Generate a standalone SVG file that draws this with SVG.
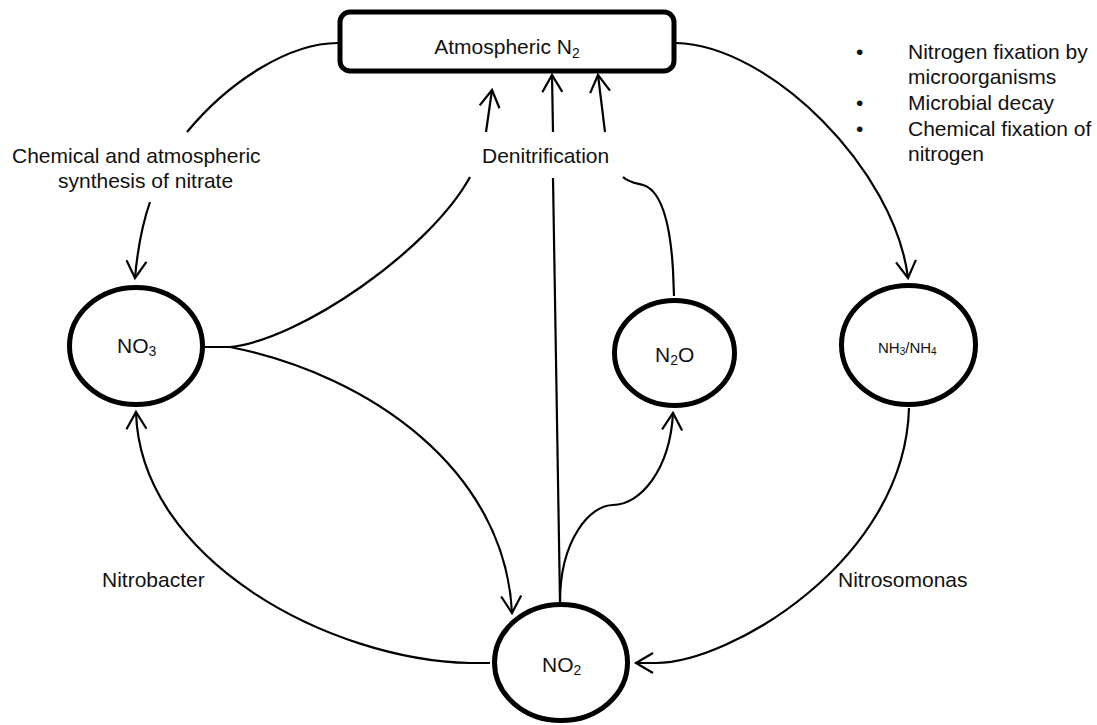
<svg xmlns="http://www.w3.org/2000/svg" width="1097" height="725" viewBox="0 0 1097 725">
<defs>
<marker id="arr" markerUnits="userSpaceOnUse" markerWidth="40" markerHeight="40" refX="0" refY="0" viewBox="-20 -20 40 40" orient="auto" overflow="visible">
<path d="M-17,-10 L0,0 L-17,10" fill="none" stroke="#000" stroke-width="2.2"/>
</marker>
</defs>
<style>
text{font-family:"Liberation Sans",Arial,sans-serif;font-size:21px;fill:#111}
.node{fill:#fff;stroke:#000;stroke-width:5}
.c{fill:none;stroke:#000;stroke-width:2.2}
.ca{fill:none;stroke:#000;stroke-width:2.2;marker-end:url(#arr)}
.sub{font-size:14px}
</style>
<rect width="1097" height="725" fill="#fff"/>
<g id="connectors">
<path class="c" d="M338,43 C290,43 230,80 187,132"/>
<path class="ca" d="M150,202 C142,225 137,255 135,278"/>
<path class="c" d="M205,347 L230,347 C300,340 430,250 470,177"/>
<path class="ca" d="M486,132 L492,90"/>
<path class="ca" d="M230,347 C370,375 505,470 512,613"/>
<path class="c" d="M560,602 L553,178"/>
<path class="ca" d="M553,132 L552,75"/>
<path class="c" d="M674,296 L673,270 C670,220 660,190 643,185 C635,183 628,182 623,177"/>
<path class="ca" d="M605,132 L598,75"/>
<path class="ca" d="M676,43 C770,45 895,170 908,278"/>
<path class="ca" d="M909,408 C905,560 730,663 656,663 L636,663"/>
<path class="ca" d="M490,663 L470,663 C330,660 140,560 136,412"/>
<path class="ca" d="M560,602 C560,540 590,505 613,505 C640,505 670,470 673,413"/>
</g>
<g id="atm">
<rect class="node" x="340" y="12" width="334" height="59" rx="10"/>
<text x="507" y="54" text-anchor="middle">Atmospheric N<tspan class="sub" dy="4">2</tspan></text>
</g>
<g id="no3">
<ellipse class="node" cx="136" cy="346" rx="66.5" ry="58.5"/>
<text x="117" y="353">NO<tspan class="sub" dy="3">3</tspan></text>
</g>
<g id="n2o">
<ellipse class="node" cx="674.5" cy="353" rx="60" ry="52.5"/>
<text x="655" y="362">N<tspan class="sub" dy="3">2</tspan><tspan dy="-3">O</tspan></text>
</g>
<g id="nh3">
<ellipse class="node" cx="908.5" cy="345" rx="67" ry="59.5"/>
<text x="878" y="353" style="font-size:15px">NH<tspan style="font-size:10px" dy="2">3</tspan><tspan dy="-2">/NH</tspan><tspan style="font-size:10px" dy="2">4</tspan></text>
</g>
<g id="no2">
<ellipse class="node" cx="561" cy="662.5" rx="66.5" ry="58"/>
<text x="542" y="672">NO<tspan class="sub" dy="3">2</tspan></text>
</g>
<g id="labels">
<text x="12" y="163">Chemical and atmospheric</text>
<text x="58" y="188">synthesis of nitrate</text>
<text x="482" y="163">Denitrification</text>
<text x="102" y="587">Nitrobacter</text>
<text x="838" y="587">Nitrosomonas</text>
<text x="856" y="59">•</text>
<text x="908" y="59">Nitrogen fixation by</text>
<text x="908" y="84">microorganisms</text>
<text x="856" y="110">•</text>
<text x="908" y="110">Microbial decay</text>
<text x="856" y="136">•</text>
<text x="908" y="136">Chemical fixation of</text>
<text x="908" y="161">nitrogen</text>
</g>
</svg>
